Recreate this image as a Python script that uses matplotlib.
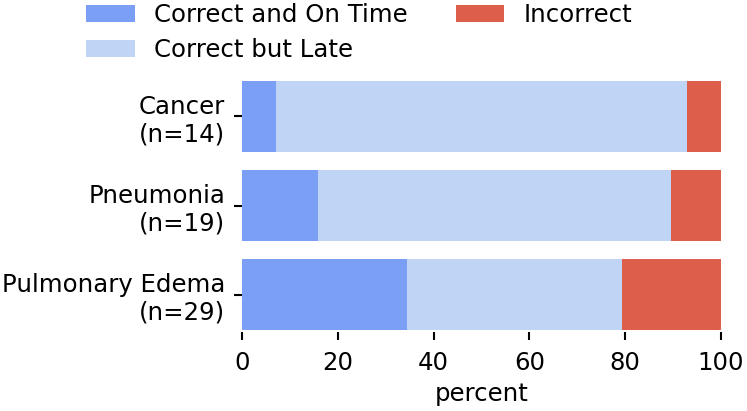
import matplotlib
matplotlib.use("Agg")
import matplotlib.pyplot as plt
import numpy as np

categories = ["Cancer\n(n=14)", "Pneumonia\n(n=19)", "Pulmonary Edema\n(n=29)"]
correct_on_time = [7.14, 15.79, 34.48]
correct_late = [85.71, 73.68, 44.83]
incorrect = [7.14, 10.53, 20.69]
series_names = ["Correct and On Time", "Correct but Late", "Incorrect"]
colors = ["#7a9ff5", "#c0d4f5", "#dd5f4b"]

plt.rcParams['font.family'] = ['DejaVu Sans']
FS = 17.6
fig = plt.figure(figsize=(7.47, 4.11), dpi=100)
ax = fig.add_axes([242/747, (411-332)/411, (721-242)/747, 253/411])

y = np.arange(len(categories))
left = np.zeros(len(categories))
for vals, name, c in zip([correct_on_time, correct_late, incorrect], series_names, colors):
    ax.barh(y, vals, left=left, height=0.8, color=c, label=name)
    left = left + np.array(vals)

ax.set_xlim(0, 100)
ax.set_ylim(2.42, -0.42)
ax.set_yticks(y)
ax.set_yticklabels(categories, fontsize=FS)
ax.set_xticks([0, 20, 40, 60, 80, 100])
ax.tick_params(axis='x', labelsize=FS, length=6, width=1.5, pad=8)
ax.tick_params(axis='y', length=6, width=1.5, pad=6)
for s in ax.spines.values():
    s.set_visible(False)
ax.set_xlabel("percent", fontsize=FS, labelpad=5)

handles, labels = ax.get_legend_handles_labels()
fig.legend(handles, labels, loc='upper left', bbox_to_anchor=(76/747, 1.0 + 7/411), ncol=2,
           frameon=False, fontsize=FS, handlelength=2.0, handletextpad=0.8,
           columnspacing=1.95, labelspacing=0.45, borderaxespad=0.0)

fig.savefig("out.png", dpi=100)
